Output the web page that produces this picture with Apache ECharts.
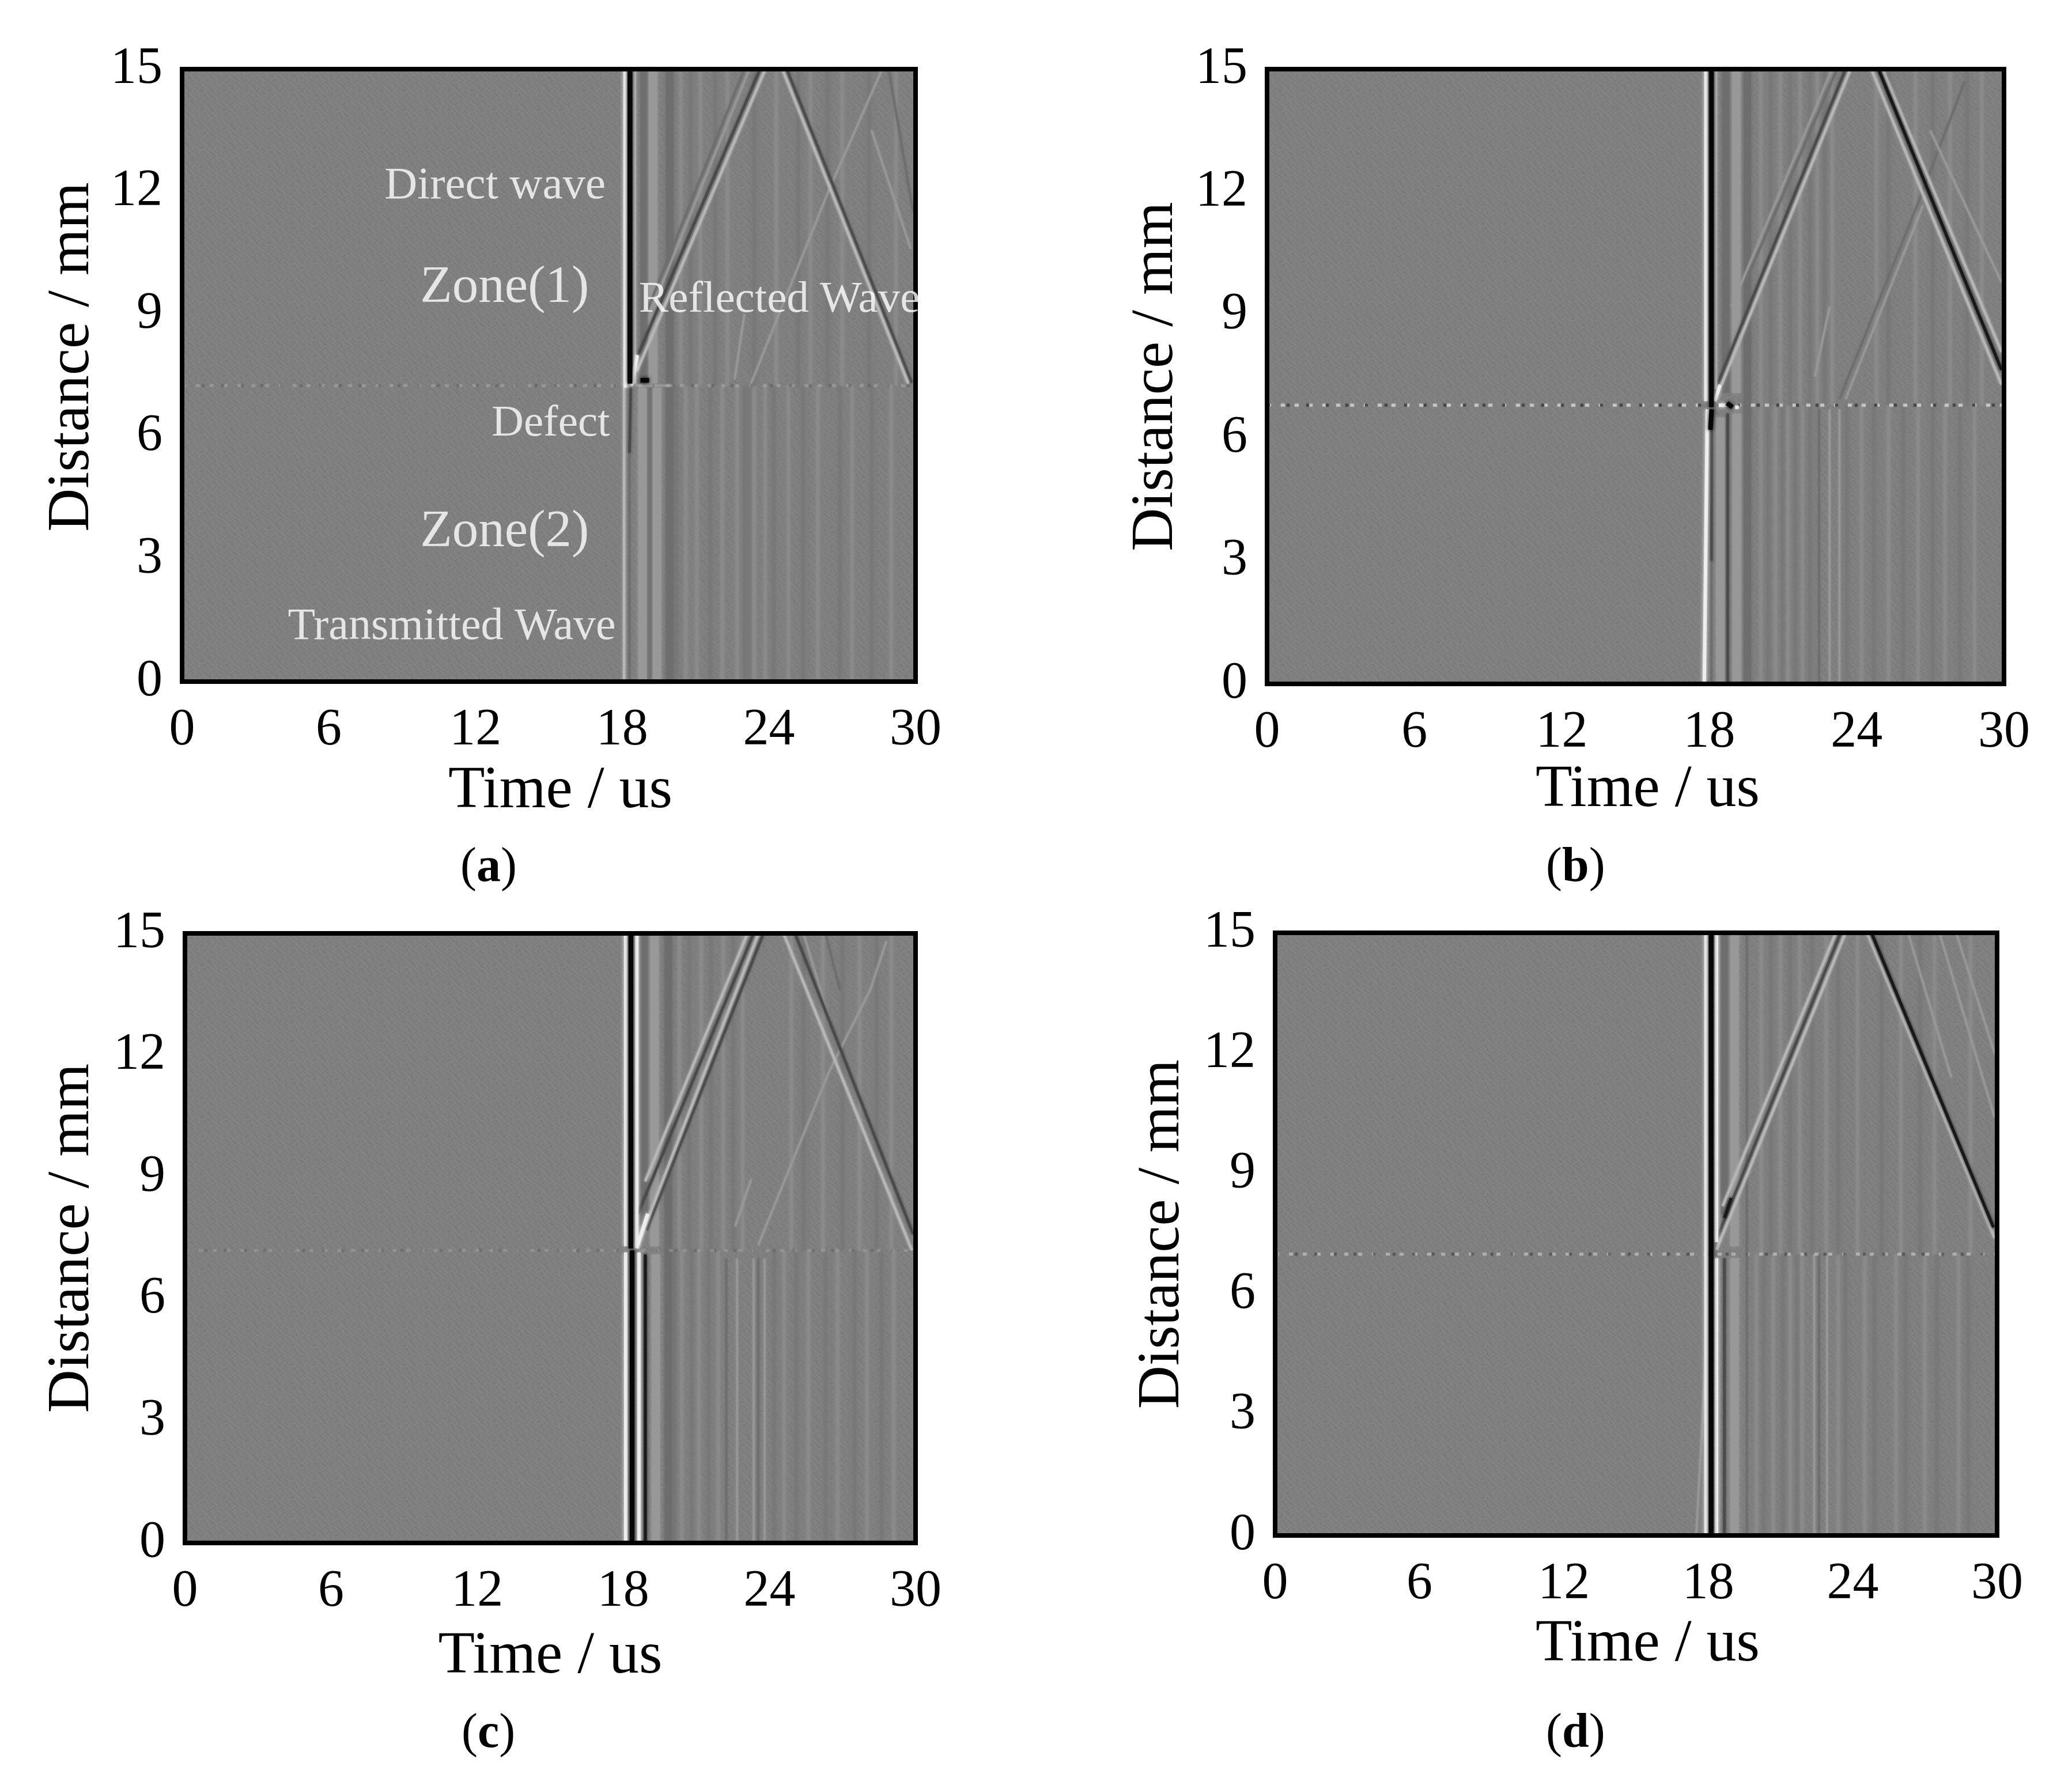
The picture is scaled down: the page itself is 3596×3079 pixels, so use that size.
<!DOCTYPE html>
<html>
<head>
  <meta charset="utf-8">
  <title>Wave field panels</title>
  <script src="https://cdn.jsdelivr.net/npm/echarts@6/dist/echarts.min.js"></script>
  <style>
    html, body { margin: 0; padding: 0; background: #fff; }
    #main { width: 3596px; height: 3079px; }
  </style>
</head>
<body>
<div id="main"></div>
<script>
// axis ticks, same for all panels
const timeTicks = [0, 6, 12, 18, 24, 30];
const distanceTicks = [0, 3, 6, 9, 12, 15];

// wave features, polylines of [time us, distance mm]
// panel (a)
const aDefect = 7.25;
const aInk = [[[18.32, 15], [18.32, 7.3]], [[18.75, 7.38], [19.1, 7.38]]];
const aWhite = [[[18.12, 15], [18.12, 7.2]], [[18.38, 7.25], [18.62, 8]]];
const aSharp = [];
const aDark = [[[23.64, 15], [18.46, 7.73]], [[24.73, 15], [29.84, 7.32]], [[18.35, 7.2], [18.3, 5.6]]];
const aLight = [[[23.85, 15], [18.6, 7.6]], [[24.55, 15], [29.7, 7.3]], [[18.51, 15], [18.51, 7.3]], [[18.08, 7.2], [18.08, 0]]];
const aFaintDark = [[[18.3, 5.6], [18.3, 0]], [[23.0, 15], [18.9, 8.9]], [[28.9, 15], [29.9, 11.5]]];
const aFaintLight = [[[23.27, 7.3], [26.47, 12.06], [28.6, 14.95]], [[28.2, 13.5], [29.8, 10.6]], [[23.2, 15], [19.2, 9.1]], [[22.6, 7.4], [23.0, 9]], [[18.1, 7.25], [20.1, 7.25]]];
const aBandDark = [[[18.9, 15], [18.9, 7.3]], [[19.15, 7.2], [19.15, 0]], [[19.94, 15], [19.94, 0]]];
const aBandLight = [[[19.26, 15], [19.26, 7.3]], [[19.42, 7.2], [19.42, 0]], [[18.83, 7.2], [18.83, 0]]];
const aLowerLight = [20.6, 21.06, 22.09, 22.7, 23.4, 23.85, 24.8, 26, 27.4, 29];
const aLowerDark = [20.2, 21.6, 23.02, 23.2, 24.2, 25.4, 26.9, 28.2];
const aUpperLight = [20.4, 21.2, 22.3, 24.3, 25.7, 27, 29.2];
const aUpperDark = [20.8, 21.8, 23.4, 25.2, 26.4, 28.1];

// panel (b)
const bDefect = 6.8;
const bInk = [[[18.09, 15], [18.09, 6.75]], [[18.72, 6.85], [18.95, 6.75]], [[18.1, 6.7], [18.05, 6.2]]];
const bWhite = [[[17.87, 15], [17.87, 6.9]], [[17.92, 6.7], [17.8, 0]], [[18.38, 6.8], [18.66, 6.8]], [[18.22, 6.9], [18.45, 7.3]], [[19.05, 6.75], [19.2, 6.75]]];
const bSharp = [[[24.89, 15], [29.9, 7.66]]];
const bDark = [[[23.55, 15], [18.3, 7.25]], [[18.09, 6.2], [18.09, 3]], [[18.75, 6.6], [18.75, 0]]];
const bLight = [[[23.75, 15], [18.5, 7.3]], [[24.6, 15], [29.9, 7.3]], [[18.27, 15], [18.27, 7.2]], [[25.05, 15], [29.9, 8.1]]];
const bFaintDark = [[[18.09, 3], [18.09, 0]], [[23.3, 6.95], [26.46, 11.67], [28.4, 14.7]], [[22.47, 6.7], [22.47, 0]], [[23.2, 15], [19.4, 9.7]]];
const bFaintLight = [[[23.55, 6.95], [26.7, 11.67]], [[22.3, 7.5], [22.9, 9.2]], [[23.0, 15], [18.9, 9.2]], [[27, 13.5], [29.9, 9.8]], [[22.9, 6.7], [22.9, 0]], [[23.3, 6.7], [23.3, 0]]];
const bBandDark = [[[18.68, 15], [18.68, 7.1]], [[19.55, 15], [19.55, 0]]];
const bBandLight = [[[19.1, 15], [19.1, 7.1]], [[19.12, 6.6], [19.12, 0]], [[18.45, 6.5], [18.45, 0]]];
const bLowerLight = [20.1, 20.7, 21.2, 21.8, 24.2, 25.3, 26.5, 27.6, 28.8];
const bLowerDark = [20.4, 21, 21.5, 22.1, 23.6, 24.7, 25.9, 27.1, 28.2];
const bUpperLight = [20.1, 20.9, 21.7, 22.4, 23, 24.8, 26.4, 27.8, 29.1];
const bUpperDark = [20.5, 21.3, 22.1, 22.7, 25.3, 27.1, 28.5];

// panel (c)
const cDefect = 7.2;
const cInk = [[[18.31, 15], [18.31, 7.25]], [[18.36, 7.2], [18.36, 0]]];
const cWhite = [[[18.1, 15], [18.1, 7.3]], [[18.1, 7.15], [18.1, 0]], [[18.55, 15], [18.55, 7.3]], [[18.64, 7.15], [18.64, 0]], [[18.55, 7.25], [19, 8.1]]];
const cSharp = [[[18.9, 7.1], [18.9, 0]]];
const cDark = [[[25.05, 15], [29.9, 7.6]], [[23.35, 15], [18.6, 8.1]], [[23.75, 15], [18.95, 7.7]]];
const cLight = [[[23.55, 15], [18.55, 7.27]], [[24.58, 15], [29.85, 7.2]], [[23.1, 15], [18.9, 8.9]]];
const cFaintDark = [[[22.23, 7], [22.23, 0]], [[23.54, 7], [23.54, 0]], [[19.8, 15], [19.8, 0]], [[26.3, 15], [26.9, 13.6]]];
const cFaintLight = [[[23.54, 7.33], [26.45, 11.6], [28.13, 13.6], [28.8, 14.8]], [[22.6, 7.8], [23.25, 8.95]], [[22.67, 7], [22.67, 0]], [[23.35, 7], [23.35, 0]], [[23.8, 7], [23.8, 0]], [[25.4, 15], [26.5, 12.8]]];
const cBandDark = [[[18.85, 15], [18.85, 7.8]], [[19.85, 15], [19.85, 0]]];
const cBandLight = [[[19.28, 15], [19.28, 7.3]], [[19.33, 7.1], [19.33, 0]]];
const cLowerLight = [20.4, 21.1, 21.9, 24.6, 25.6, 26.8, 28, 29.1];
const cLowerDark = [20.1, 20.8, 21.5, 24.2, 25.1, 26.3, 27.5, 28.6];
const cUpperLight = [20.3, 21.2, 22.1, 22.9, 24.9, 26.2, 27.7, 29];
const cUpperDark = [20.7, 21.6, 22.5, 25.4, 27, 28.4];

// panel (d)
const dDefect = 7;
const dInk = [[[18.12, 15], [18.12, 0]]];
const dWhite = [[[17.91, 15], [17.91, 0]], [[18.34, 15], [18.34, 7.3]], [[18.34, 6.9], [18.34, 0]]];
const dSharp = [[[24.78, 15], [29.85, 7.67]], [[18.67, 7.9], [18.95, 8.4]]];
const dDark = [[[23.5, 15], [18.3, 7.3]], [[18.67, 6.9], [18.67, 0]]];
const dLight = [[[24.6, 15], [29.9, 7.4]], [[23.7, 15], [18.34, 7.11]], [[23.3, 15], [18.6, 8.2]]];
const dFaintDark = [[[22.6, 7], [22.6, 0]], [[19.6, 15], [19.6, 0]]];
const dFaintLight = [[[22.93, 7], [22.93, 0]], [[22.4, 7], [22.4, 0]], [[17.93, 4.9], [17.5, 0]], [[27.6, 15], [29.9, 10.4]], [[28.3, 15], [29.9, 12]], [[26.3, 15], [28.1, 11.4]]];
const dBandDark = [[[18.67, 15], [18.67, 8]]];
const dBandLight = [[[19.09, 15], [19.09, 7.2]], [[19.09, 6.9], [19.09, 0]]];
const dLowerLight = [20, 20.7, 21.4, 21.9, 23.4, 24.5, 25.8, 27, 28.4];
const dLowerDark = [20.3, 21.1, 21.7, 23.7, 24.9, 26.2, 27.5, 28.8];
const dUpperLight = [20.2, 21, 21.8, 22.9, 24.2, 26, 27.4, 28.9];
const dUpperDark = [20.6, 21.4, 22.3, 23.4, 25.2, 26.8];

// labels written inside panel (a)
const noteLabels = ['Direct wave', 'Zone(1)', 'Reflected Wave', 'Defect', 'Zone(2)', 'Transmitted Wave'];
const noteTimes = [12.8, 13.19, 24.43, 15.08, 13.19, 11.03];
const noteDistances = [12.13, 9.64, 9.35, 6.31, 3.66, 1.33];

const captions = ['a', 'b', 'c', 'd'];

const SERIF = '"Liberation Serif", "Times New Roman", serif';
const noteFontSizes = [79, 91, 77, 77, 91, 78];

// frame and text placement of each panel, in page pixels
const layout = [
  { left: 316, right: 1589, top: 120, bottom: 1183, xGap: 139, yGap: 138, xShift: 40, yShift: 64, capX: 794, capY: 1460 },
  { left: 2199, right: 3478, top: 120, bottom: 1187, xGap: 133, yGap: 140, xShift: 42, yShift: 0, capX: 2678, capY: 1460 },
  { left: 321, right: 1589, top: 1620, bottom: 2678, xGap: 146, yGap: 143, xShift: 0, yShift: 0, capX: 796, capY: 2963 },
  { left: 2213, right: 3466, top: 1619, bottom: 2665, xGap: 138, yGap: 143, xShift: 40, yShift: 0, capX: 2678, capY: 2963 }
];

const tones = {
  ink: { color: '#060606', width: 8 },
  white: { color: '#eeeeee', width: 6 },
  sharp: { color: '#181818', width: 5 },
  dark: { color: '#4a4a4a', width: 4.5 },
  light: { color: '#b6b6b6', width: 4.5 },
  faintDark: { color: '#6e6e6e', width: 3.5 },
  faintLight: { color: '#979797', width: 3.5 },
  bandDark: { color: '#6e6e6e', width: 13 },
  bandLight: { color: '#989898', width: 15 },
  streakDark: { color: '#787878', width: 6 },
  streakLight: { color: '#8a8a8a', width: 6 }
};
const defectStrength = [0.2, 0.85, 0.15, 0.45];

// grey offsets of the plot background grain, one repeating tile
const grainTile = [
  [ 3, -4,  1,  5, -2, -5,  2,  4, -1, -3,  5,  1, -3],
  [-2,  5, -3,  1,  3, -1, -5,  2,  5, -2, -4,  3,  1],
  [ 4,  1, -5,  2, -1,  5,  3, -3,  0,  3,  2, -5, -1],
  [-5,  2,  3, -3,  5, -2, -4,  1,  4, -1, -2,  5,  2],
  [ 1, -3,  0,  5, -4,  2,  3, -5,  2,  3, -1, -3,  4],
  [ 5,  2, -2, -5,  1,  4, -1,  3, -3,  5,  0,  2, -4],
  [-3,  4,  3, -1, -3,  1,  5, -2,  1, -5,  3, -2,  2],
  [ 1, -1,  5,  2, -5,  3, -3,  0,  4,  1, -4,  5, -2],
  [-4,  3, -2,  5,  2, -5,  1,  5, -3,  2,  3, -1, -5],
  [ 2,  5, -1, -3,  4,  0, -2,  3,  1, -5,  4,  1,  3],
  [-1, -5,  4,  1, -2,  3,  5, -4,  2,  1, -3,  5, -1]
];

function grainPattern() {
  const cell = 3;
  const canvas = document.createElement('canvas');
  canvas.width = grainTile[0].length * cell;
  canvas.height = grainTile.length * cell;
  const ctx = canvas.getContext('2d');
  grainTile.forEach(function (row, r) {
    row.forEach(function (v, c) {
      const g = 127 + v;
      ctx.fillStyle = 'rgb(' + g + ',' + g + ',' + g + ')';
      ctx.fillRect(c * cell, r * cell, cell, cell);
    });
  });
  return { image: canvas, repeat: 'repeat' };
}

// vertical streaks between two distances
function upright(times, from, to) {
  return times.map(function (t) { return [[t, from], [t, to]]; });
}

const panels = [
  { defect: aDefect, bandDark: aBandDark, bandLight: aBandLight, lowerLight: aLowerLight, lowerDark: aLowerDark, upperLight: aUpperLight, upperDark: aUpperDark, faintDark: aFaintDark, faintLight: aFaintLight, dark: aDark, light: aLight, sharp: aSharp, white: aWhite, ink: aInk },
  { defect: bDefect, bandDark: bBandDark, bandLight: bBandLight, lowerLight: bLowerLight, lowerDark: bLowerDark, upperLight: bUpperLight, upperDark: bUpperDark, faintDark: bFaintDark, faintLight: bFaintLight, dark: bDark, light: bLight, sharp: bSharp, white: bWhite, ink: bInk },
  { defect: cDefect, bandDark: cBandDark, bandLight: cBandLight, lowerLight: cLowerLight, lowerDark: cLowerDark, upperLight: cUpperLight, upperDark: cUpperDark, faintDark: cFaintDark, faintLight: cFaintLight, dark: cDark, light: cLight, sharp: cSharp, white: cWhite, ink: cInk },
  { defect: dDefect, bandDark: dBandDark, bandLight: dBandLight, lowerLight: dLowerLight, lowerDark: dLowerDark, upperLight: dUpperLight, upperDark: dUpperDark, faintDark: dFaintDark, faintLight: dFaintLight, dark: dDark, light: dLight, sharp: dSharp, white: dWhite, ink: dInk }
];

const grids = [], xAxes = [], yAxes = [], titles = [], series = [];

function lineSeries(i, shapes, tone, extra) {
  series.push({
    type: 'lines',
    coordinateSystem: 'cartesian2d',
    xAxisIndex: i * 2,
    yAxisIndex: i * 2,
    polyline: true,
    silent: true,
    z: 2,
    lineStyle: Object.assign({
      color: tone.color,
      width: tone.width,
      opacity: 1,
      curveness: 0,
      shadowBlur: Math.min(tone.width, 6),
      shadowColor: tone.color
    }, extra || {}),
    data: shapes.map(function (s) { return { coords: s }; })
  });
}

const grain = grainPattern();

panels.forEach(function (p, i) {
  const box = layout[i];
  grids.push({
    show: true,
    left: box.left,
    top: box.top,
    width: box.right - box.left,
    height: box.bottom - box.top,
    backgroundColor: grain,
    borderWidth: 0
  });
  const frameLine = { show: true, onZero: false, lineStyle: { color: '#000', width: 8, cap: 'square' } };
  const xBase = {
    type: 'value', gridIndex: i, z: 5,
    min: timeTicks[0], max: timeTicks[timeTicks.length - 1], interval: timeTicks[1] - timeTicks[0],
    axisLine: frameLine, axisTick: { show: false }, splitLine: { show: false }
  };
  const yBase = {
    type: 'value', gridIndex: i, z: 5,
    min: distanceTicks[0], max: distanceTicks[distanceTicks.length - 1], interval: distanceTicks[1] - distanceTicks[0],
    axisLine: frameLine, axisTick: { show: false }, splitLine: { show: false }
  };
  xAxes.push(Object.assign({}, xBase, {
    position: 'bottom',
    name: 'Time / us',
    nameLocation: 'middle',
    nameGap: box.xGap,
    nameTextStyle: { fontFamily: SERIF, fontSize: 104, color: '#000', padding: [0, 0, 0, box.xShift] },
    axisLabel: { fontFamily: SERIF, fontSize: 90, color: '#000', margin: 40 }
  }));
  xAxes.push(Object.assign({}, xBase, { position: 'top', axisLabel: { show: false } }));
  yAxes.push(Object.assign({}, yBase, {
    position: 'left',
    name: 'Distance / mm',
    nameLocation: 'middle',
    nameGap: box.yGap,
    nameTextStyle: { fontFamily: SERIF, fontSize: 104, color: '#000', padding: [0, 0, 0, box.yShift] },
    axisLabel: { fontFamily: SERIF, fontSize: 90, color: '#000', margin: 34 }
  }));
  yAxes.push(Object.assign({}, yBase, { position: 'right', axisLabel: { show: false } }));

  titles.push({
    text: '{p|(}{b|' + captions[i] + '}{p|)}',
    left: box.capX,
    top: box.capY,
    textStyle: {
      fontWeight: 'normal',
      rich: {
        p: { fontFamily: SERIF, fontSize: 84, color: '#000', fontWeight: 'normal' },
        b: { fontFamily: SERIF, fontSize: 84, color: '#000', fontWeight: 'bold' }
      }
    }
  });

  // soft texture first, sharp waves on top
  lineSeries(i, upright(p.lowerDark, 0, p.defect), tones.streakDark);
  lineSeries(i, upright(p.lowerLight, 0, p.defect), tones.streakLight);
  lineSeries(i, upright(p.upperDark, p.defect, 15), tones.streakDark);
  lineSeries(i, upright(p.upperLight, p.defect, 15), tones.streakLight);
  lineSeries(i, p.bandDark, tones.bandDark);
  lineSeries(i, p.bandLight, tones.bandLight);
  lineSeries(i, p.faintDark, tones.faintDark);
  lineSeries(i, p.faintLight, tones.faintLight);
  const defectLine = [[[timeTicks[0], p.defect], [timeTicks[timeTicks.length - 1], p.defect]]];
  lineSeries(i, defectLine, { color: '#c8c8c8', width: 5 }, { type: [7, 17], opacity: defectStrength[i], shadowBlur: 2 });
  lineSeries(i, defectLine, { color: '#444444', width: 5 }, { type: [5, 29], opacity: defectStrength[i], shadowBlur: 2 });
  lineSeries(i, p.dark, tones.dark);
  lineSeries(i, p.light, tones.light);
  lineSeries(i, p.sharp, tones.sharp);
  lineSeries(i, p.white, tones.white);
  lineSeries(i, p.ink, tones.ink);
});

// annotation text of panel (a)
series.push({
  type: 'scatter',
  xAxisIndex: 0,
  yAxisIndex: 0,
  symbolSize: 1,
  silent: true,
  clip: false,
  z: 10,
  itemStyle: { color: 'rgba(0,0,0,0)' },
  data: noteLabels.map(function (name, k) {
    return {
      name: name,
      value: [noteTimes[k], noteDistances[k]],
      label: {
        show: true,
        position: 'inside',
        formatter: '{b}',
        fontFamily: SERIF,
        fontSize: noteFontSizes[k],
        color: '#ffffff',
        textBorderWidth: 0
      }
    };
  })
});

const myChart = echarts.init(document.getElementById('main'), null, { renderer: 'canvas' });
myChart.setOption({
  backgroundColor: '#fff',
  animation: false,
  title: titles,
  grid: grids,
  xAxis: xAxes,
  yAxis: yAxes,
  series: series
});
window.addEventListener('resize', function () {
  myChart.resize();
});
</script>
</body>
</html>
